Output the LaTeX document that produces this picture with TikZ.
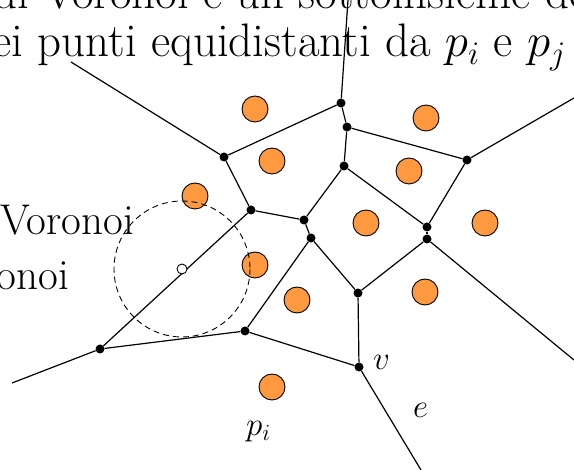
\RequirePackage{fix-cm}
\documentclass[tikz,border=0pt]{standalone}
\usepackage{fontspec}
\definecolor{siteorange}{RGB}{255,153,64}
\begin{document}
\begin{tikzpicture}[x=1pt,y=-1pt,
  vtx/.style={circle,fill=black,inner sep=0pt,minimum size=9pt},
  site/.style={circle,draw=black,line width=0.9pt,fill=siteorange,inner sep=0pt,minimum size=26pt},
  edge/.style={line width=1.2pt},
  hole/.style={circle,draw=black,line width=0.9pt,fill=white,inner sep=0pt,minimum size=10pt},
  bigtext/.style={inner sep=0pt,font=\fontsize{47}{54}\selectfont},
  sidetext/.style={inner sep=0pt,font=\fontsize{43}{50}\selectfont},
  lbl/.style={inner sep=0pt,font=\fontsize{33}{39}\selectfont}]
\useasboundingbox (0,0) rectangle (574,470);
\clip (0,0) rectangle (574,470);
% texts
\node[bigtext,anchor=base west] (t1) at (-7,9) {di Voronoi è un sottoinsieme dei};
\node[bigtext,anchor=base east] (t2) at (566,57) {dei punti equidistanti da $p_i$ e $p_j$};
\node[sidetext,anchor=base east] (s1) at (134,235) {Voronoi};
\node[sidetext,anchor=base east] (s2) at (69,290) {Voronoi};
% free ends
\coordinate (uA) at (71,62);
\coordinate (uB) at (348,0);
\coordinate (uE) at (574,98);
\coordinate (uJ) at (574,360);
\coordinate (uN) at (421,470);
\coordinate (uM) at (12,383);
% vertices
\node[vtx] (A) at (224,157) {};
\node[vtx] (B) at (341,103) {};
\node[vtx] (C) at (347,127) {};
\node[vtx] (D) at (344,166) {};
\node[vtx] (E) at (467,160) {};
\node[vtx] (F) at (251,210) {};
\node[vtx] (G) at (304,220) {};
\node[vtx] (H) at (311,238) {};
\node[vtx] (I) at (427,227) {};
\node[vtx] (J) at (427,239) {};
\node[vtx] (K) at (358,293) {};
\node[vtx] (L) at (245,331) {};
\node[vtx] (M) at (100,349) {};
\node[vtx] (N) at (359,367) {};
% edges
\draw[edge] (A) -- (uA);
\draw[edge] (A) -- (B);
\draw[edge] (B) -- (uB);
\draw[edge] (B) -- (C);
\draw[edge] (C) -- (D);
\draw[edge] (C) -- (E);
\draw[edge] (E) -- (uE);
\draw[edge] (A) -- (F);
\draw[edge] (F) -- (G);
\draw[edge] (G) -- (D);
\draw[edge] (D) -- (I);
\draw[edge] (E) -- (I);
\draw[edge] (I) -- (J);
\draw[edge] (G) -- (H);
\draw[edge] (J) -- (K);
\draw[edge] (J) -- (uJ);
\draw[edge] (H) -- (K);
\draw[edge] (H) -- (L);
\draw[edge] (F) -- (M);
\draw[edge] (L) -- (M);
\draw[edge] (L) -- (N);
\draw[edge] (K) -- (N);
\draw[edge] (N) -- (uN);
\draw[edge] (M) -- (uM);
% sites
\node[site] (p1) at (255,109) {};
\node[site] (p2) at (272,161) {};
\node[site] (p3) at (426,118) {};
\node[site] (p4) at (195,196) {};
\node[site] (p5) at (409,171) {};
\node[site] (p6) at (366,223) {};
\node[site] (p7) at (485,223) {};
\node[site] (p8) at (255,265) {};
\node[site] (p9) at (297,300) {};
\node[site] (p10) at (425,292) {};
\node[site] (pi) at (272,387) {};
% empty circle
\node[hole] (c) at (182,269) {};
\draw[line width=0.9pt,dash pattern=on 6pt off 4pt] (c.center) circle[radius=68];
% labels
\node[lbl,anchor=base west] (lv) at (373,370) {$v$};
\node[lbl,anchor=base west] (le) at (413,418) {$e$};
\node[lbl,anchor=base west] (lp) at (246,436) {$p_i$};
\end{tikzpicture}
\end{document}
